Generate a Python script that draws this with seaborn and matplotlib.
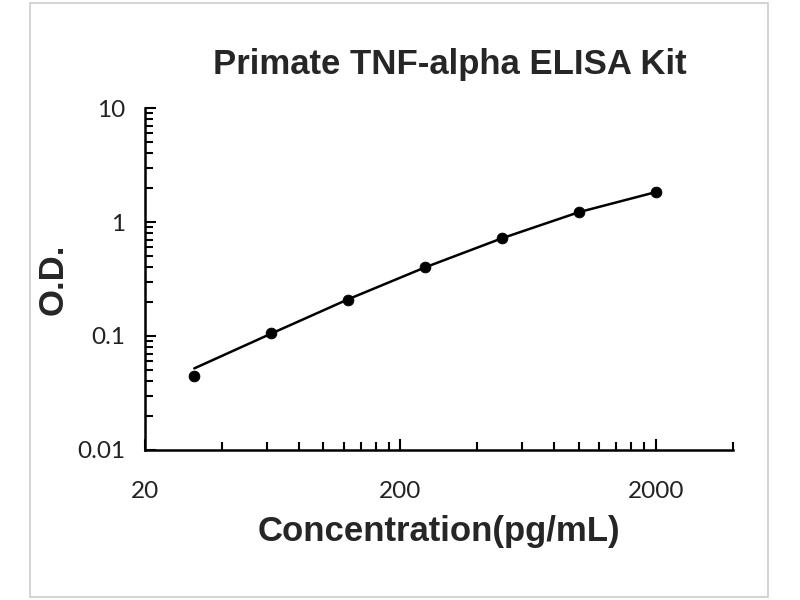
import numpy as np
import pandas as pd
import matplotlib
matplotlib.use("Agg")
import matplotlib.pyplot as plt
import seaborn as sns
from matplotlib.ticker import FixedLocator, NullFormatter
from matplotlib.patches import Rectangle

# standard concentrations and measured O.D.
conc = [31.25, 62.5, 125, 250, 500, 1000, 2000]
od = [0.0446, 0.106, 0.207, 0.403, 0.724, 1.224, 1.83]
# fitted curve at the same concentrations
curve_od = [0.052, 0.105, 0.21, 0.40, 0.72, 1.22, 1.83]

x_ticks = [20, 200, 2000]
x_tick_labels = ["20", "200", "2000"]
y_ticks = [0.01, 0.1, 1, 10]
y_tick_labels = ["0.01", "0.1", "1", "10"]

df = pd.DataFrame({"conc": conc, "od": od, "curve": curve_od})

sns.set_theme(style="white")
plt.rcParams['font.family'] = ['Liberation Sans', 'DejaVu Sans']

fig = plt.figure(figsize=(8, 6), dpi=100)
ax = fig.add_axes([0.181, 0.25, 0.735, 0.57])

sns.lineplot(data=df, x="conc", y="curve", color="black", linewidth=1.8, ax=ax)
sns.scatterplot(data=df, x="conc", y="od", color="black", s=60, edgecolor="black", ax=ax, zorder=3)

ax.set_xscale("log")
ax.set_yscale("log")
ax.set_xlim(20, 4000)
ax.set_ylim(0.01, 10)

ax.xaxis.set_major_locator(FixedLocator(x_ticks))
ax.set_xticklabels(x_tick_labels)
ax.yaxis.set_major_locator(FixedLocator(y_ticks))
ax.set_yticklabels(y_tick_labels)

x_minor = [m * d for d in (20, 200) for m in range(2, 10)] + [4000]
ax.xaxis.set_minor_locator(FixedLocator(x_minor))
ax.xaxis.set_minor_formatter(NullFormatter())
y_minor = [m * d for d in (0.01, 0.1, 1) for m in range(2, 10)]
ax.yaxis.set_minor_locator(FixedLocator(y_minor))
ax.yaxis.set_minor_formatter(NullFormatter())

for side in ("top", "right"):
    ax.spines[side].set_visible(False)
for side in ("left", "bottom"):
    ax.spines[side].set_color("black")
    ax.spines[side].set_linewidth(1.8)

ax.tick_params(axis="both", which="both", direction="in", color="black", width=1.5,
               bottom=True, left=True, labelsize=17.5, labelcolor="#222222")
ax.tick_params(axis="both", which="major", length=8)
ax.tick_params(axis="both", which="minor", length=6)
ax.tick_params(axis="x", which="major", pad=22)
ax.tick_params(axis="y", which="major", pad=14)
for lab in ax.get_xticklabels() + ax.get_yticklabels():
    lab.set_family(["Lato", "DejaVu Sans"])

ax.set_xlabel("Concentration(pg/mL)", fontsize=25, fontweight="bold", labelpad=10)
ax.set_ylabel("O.D.", fontsize=25, fontweight="bold")
ax.yaxis.set_label_coords(-0.128, 0.5)
fig.text(0.5625, 0.893, "Primate TNF-alpha ELISA Kit", ha="center", va="center",
         fontsize=25, fontweight="bold")

fig.patches.append(Rectangle((30 / 800, 3 / 600), 738 / 800, 594 / 600,
                             transform=fig.transFigure, fill=False,
                             edgecolor="#cccccc", linewidth=1.2))

fig.savefig("out.png", dpi=100)
